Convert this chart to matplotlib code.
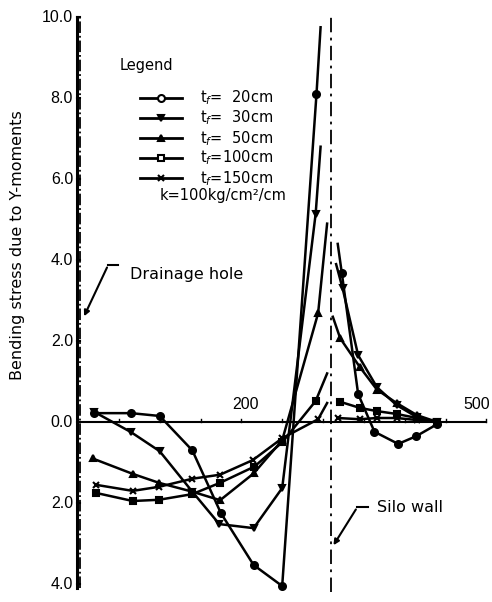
import matplotlib
matplotlib.use("Agg")
import matplotlib.pyplot as plt

# distance from drainage hole (cm) and bending stress
x20 = [20, 65, 100, 140, 175, 215, 250, 292, 297]
y20 = [0.22, 0.22, 0.15, -0.70, -2.25, -3.53, -4.05, 8.1, 9.75]
x30 = [20, 65, 100, 140, 173, 215, 250, 291, 297]
y30 = [0.25, -0.25, -0.72, -1.72, -2.52, -2.62, -1.63, 5.15, 6.8]
x50 = [18, 67, 99, 140, 174, 215, 250, 294, 305]
y50 = [-0.90, -1.28, -1.50, -1.72, -1.93, -1.27, -0.45, 2.69, 4.9]
x100 = [22, 67, 99, 140, 174, 216, 250, 291, 305]
y100 = [-1.75, -1.95, -1.92, -1.78, -1.50, -1.10, -0.50, 0.52, 1.2]
x150 = [22, 67, 99, 140, 174, 214, 250, 294, 305]
y150 = [-1.55, -1.70, -1.60, -1.40, -1.30, -0.94, -0.40, 0.07, 0.47]

# outside the silo wall
xr20 = [318, 323, 343, 363, 392, 414, 440]
yr20 = [4.4, 3.68, 0.69, -0.24, -0.54, -0.35, -0.05]
xr30 = [316, 324, 343, 366, 390, 415, 440]
yr30 = [3.9, 3.3, 1.65, 0.86, 0.42, 0.12, 0.0]
xr50 = [312, 321, 345, 366, 390, 415, 440]
yr50 = [2.6, 2.07, 1.36, 0.80, 0.47, 0.17, 0.0]
xr100 = [321, 345, 366, 390, 415, 440]
yr100 = [0.50, 0.35, 0.27, 0.20, 0.10, 0.0]
xr150 = [318, 345, 366, 390, 415, 440]
yr150 = [0.10, 0.07, 0.10, 0.10, 0.05, 0.0]

labels = ["t$_f$=  20cm", "t$_f$=  30cm", "t$_f$=  50cm", "t$_f$=100cm", "t$_f$=150cm"]
markers = ["o", "v", "^", "s", "x"]
# first point outside the wall is only a line start for the thin slabs
right_start = [1, 1, 1, 0, 0]
yticks = [10.0, 8.0, 6.0, 4.0, 2.0, 0.0, -2.0, -4.0]
silo_x = 310

fig = plt.figure(figsize=(4.92, 6.02), dpi=100)
ax = fig.add_axes([0.1419, 0.0097, 0.855, 0.982])
ax.set_xlim(-10, 505)
ax.set_ylim(-4.3, 10.3)
ax.axis("off")

series = [(x20, y20, xr20, yr20), (x30, y30, xr30, yr30), (x50, y50, xr50, yr50),
          (x100, y100, xr100, yr100), (x150, y150, xr150, yr150)]
for (xl, yl, xr, yr), m, s in zip(series, markers, right_start):
    style = dict(color="black", lw=1.8, marker=m, ms=5, mfc="black", mec="black", mew=1.5)
    ax.plot(xl, yl, markevery=list(range(len(xl) - 1)), **style)
    ax.plot(xr, yr, markevery=list(range(s, len(xr))), **style)

# axes lines
ax.plot([-1.5, -1.5], [-4.1, 10.0], color="black", lw=2.2)
ax.plot([2.5, 2.5], [-4.1, 10.0], color="black", lw=1.3, ls="-.")
ax.plot([0, 500], [0, 0], color="black", lw=1.5)
for t in range(50, 501, 50):
    ax.plot([t, t], [0, 0.07], color="black", lw=1)
ax.plot([silo_x, silo_x], [-4.2, 10.0], color="black", lw=1.3, ls=(0, (8, 3, 1.5, 3)))

for v in yticks:
    ax.plot([-1.5, 2.5], [v, v], color="black", lw=1.5)
    ax.text(-6, v, f"{abs(v):.1f}", ha="right", va="center", fontsize=11.5,
            family="Liberation Sans", clip_on=False)
ax.text(205, 0.25, "200", ha="center", va="bottom", fontsize=11.5, family="Liberation Sans")
ax.text(488, 0.25, "500", ha="center", va="bottom", fontsize=11.5, family="Liberation Sans")

fig.text(18 / 492, 1 - 245 / 602, "Bending stress due to Y-moments", rotation=90,
         ha="center", va="center", fontsize=11.5)

# legend drawn by hand
ax.text(51, 8.81, "Legend", ha="left", va="center", fontsize=10.5)
leg_y = [8.0, 7.51, 7.01, 6.52, 6.02]
for yy, m, lab in zip(leg_y, markers, labels):
    ax.plot([76, 127], [yy, yy], color="black", lw=2)
    ax.plot([101.6], [yy], marker=m, ms=5, mfc="white" if m in "os" else "black",
            mec="black", mew=1.5)
    ax.text(149, yy, lab, ha="left", va="center", fontsize=10.5)
ax.text(100, 5.6, "k=100kg/cm²/cm", ha="left", va="center", fontsize=10.5)

# annotations
ax.plot([49, 37], [3.88, 3.88], color="black", lw=1.5)
ax.annotate("", xy=(6, 2.55), xytext=(37, 3.88),
            arrowprops=dict(arrowstyle="-|>", color="black", lw=1.5, mutation_scale=8))
ax.text(64, 3.65, "Drainage hole", ha="left", va="center", fontsize=11.5)
ax.plot([355, 342], [-2.1, -2.1], color="black", lw=1.5)
ax.annotate("", xy=(311, -3.1), xytext=(342, -2.1),
            arrowprops=dict(arrowstyle="-|>", color="black", lw=1.5, mutation_scale=8))
ax.text(366, -2.1, "Silo wall", ha="left", va="center", fontsize=11.5)

fig.savefig("out.png", dpi=100)
